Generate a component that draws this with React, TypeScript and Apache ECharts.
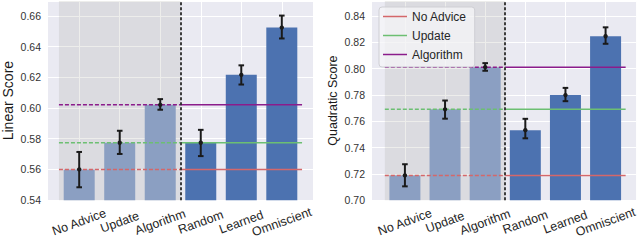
import React, { useEffect, useRef } from "react";
import * as echarts from "echarts";

const categories = ["No Advice", "Update", "Algorithm", "Random", "Learned", "Omniscient"];
const baselineCount = 3;
const lineNames = ["No Advice", "Update", "Algorithm"];

const linearMean = [0.5600, 0.5774, 0.6021, 0.5774, 0.6216, 0.6524];
const linearLow = [0.5484, 0.5701, 0.5989, 0.5687, 0.6153, 0.6453];
const linearHigh = [0.5714, 0.5852, 0.6058, 0.5858, 0.6278, 0.6602];

const quadMean = [0.7188, 0.7690, 0.8010, 0.7532, 0.7798, 0.8245];
const quadLow = [0.7105, 0.7619, 0.7983, 0.7470, 0.7752, 0.8188];
const quadHigh = [0.7273, 0.7757, 0.8041, 0.7618, 0.7853, 0.8313];

const linearTicks = { min: 0.54, max: 0.6697, interval: 0.02 };
const quadTicks = { min: 0.70, max: 0.8513, interval: 0.02 };

const FONT = "Liberation Sans, Arial, sans-serif";
const LIGHT_BAR = "#8b9fc2";
const DARK_BAR = "#4c72b0";
const LINE_COLORS = ["#d4676a", "#6cbf72", "#8b1c8b"];

function buildChart(
  g: number,
  mean: number[],
  low: number[],
  high: number[],
  suffix: string
) {
  const split = baselineCount - 0.5;
  const start = -0.5;
  const end = categories.length - 0.5;
  const series: any[] = [];
  series.push({
    type: "line",
    name: "shade" + suffix,
    xAxisIndex: g,
    yAxisIndex: g,
    data: [],
    z: 1,
    silent: true,
    markArea: {
      silent: true,
      itemStyle: { color: "rgba(140,140,132,0.16)" },
      data: [[{ xAxis: start }, { xAxis: split }]],
    },
    markLine: {
      silent: true,
      symbol: "none",
      label: { show: false },
      lineStyle: { color: "#2a2a2a", type: [3, 2], width: 1.8 },
      data: [{ xAxis: split }],
    },
  });
  series.push({
    type: "bar",
    name: "bars" + suffix,
    xAxisIndex: g,
    yAxisIndex: g,
    barWidth: 31,
    z: 2,
    data: mean.map((v, i) => ({
      value: [i, v],
      itemStyle: { color: i < baselineCount ? LIGHT_BAR : DARK_BAR },
    })),
  });
  for (let k = 0; k < baselineCount; k++) {
    const v = mean[k];
    series.push({
      type: "line",
      name: suffix === "" ? lineNames[k] : lineNames[k] + suffix,
      xAxisIndex: g,
      yAxisIndex: g,
      symbol: "none",
      z: 3,
      lineStyle: { color: LINE_COLORS[k], width: 1.5 },
      itemStyle: { color: LINE_COLORS[k] },
      data: [
        [split, v],
        [end, v],
      ],
    });
    series.push({
      type: "line",
      name: "dash" + k + suffix,
      xAxisIndex: g,
      yAxisIndex: g,
      symbol: "none",
      z: 3,
      lineStyle: { color: LINE_COLORS[k], width: 1.5, type: [4, 2] },
      data: [
        [start, v],
        [split, v],
      ],
    });
  }
  series.push({
    type: "custom",
    name: "err" + suffix,
    xAxisIndex: g,
    yAxisIndex: g,
    z: 5,
    data: mean.map((v, i) => [i, low[i], high[i], v]),
    renderItem: (params: any, api: any) => {
      const x = api.value(0);
      const lo = api.coord([x, api.value(1)]);
      const hi = api.coord([x, api.value(2)]);
      const m = api.coord([x, api.value(3)]);
      const st = { stroke: "#1a1a1a", lineWidth: 2 };
      const cw = 2.8;
      return {
        type: "group",
        children: [
          { type: "line", shape: { x1: lo[0], y1: lo[1], x2: hi[0], y2: hi[1] }, style: st },
          { type: "line", shape: { x1: lo[0] - cw, y1: lo[1], x2: lo[0] + cw, y2: lo[1] }, style: st },
          { type: "line", shape: { x1: hi[0] - cw, y1: hi[1], x2: hi[0] + cw, y2: hi[1] }, style: st },
          { type: "circle", shape: { cx: m[0], cy: m[1], r: 2.2 }, style: { fill: "#1a1a1a" } },
        ],
      };
    },
  });
  return series;
}

function xAxisFor(g: number, min: number, max: number) {
  const idx = categories.map((_, i) => i);
  return {
    type: "value",
    gridIndex: g,
    min,
    max,
    axisLine: { show: false },
    axisTick: { show: false, customValues: idx },
    splitLine: { show: true, lineStyle: { color: "#ffffff", width: 1 } },
    axisLabel: {
      customValues: idx,
      formatter: (v: number) => categories[Math.round(v)] ?? "",
      rotate: 20,
      align: "center",
      verticalAlign: "middle",
      margin: 22,
      fontSize: 12.5,
      color: "#262626",
      fontFamily: FONT,
    },
  };
}

function yAxisFor(g: number, t: any, name: string, nameSize: number) {
  return {
    type: "value",
    gridIndex: g,
    min: t.min,
    max: t.max,
    interval: t.interval,
    name,
    nameLocation: "middle",
    nameGap: 33,
    nameTextStyle: { fontSize: nameSize, color: "#1a1a1a", fontFamily: FONT },
    axisLine: { show: false },
    axisTick: { show: false },
    splitLine: { show: true, lineStyle: { color: "#ffffff", width: 1 } },
    axisLabel: {
      formatter: (v: number) => v.toFixed(2),
      showMaxLabel: false,
      fontSize: 10.5,
      margin: 7,
      color: "#333333",
      fontFamily: FONT,
    },
  };
}

export default function App() {
  const ref = useRef<HTMLDivElement>(null);
  useEffect(() => {
    if (!ref.current) return;
    const chart = echarts.init(ref.current, null, { renderer: "svg" });
    chart.setOption({
      animation: false,
      textStyle: { fontFamily: FONT },
      grid: [
        { left: 47, right: 327, top: 1, bottom: 38, show: true, backgroundColor: "#eaeaf2", borderWidth: 0 },
        { left: 372, right: 1, top: 1, bottom: 38, show: true, backgroundColor: "#eaeaf2", borderWidth: 0 },
      ],
      xAxis: [xAxisFor(0, -0.77, 5.77), xAxisFor(1, -0.82, 5.76)],
      yAxis: [
        yAxisFor(0, linearTicks, "Linear Score", 14),
        yAxisFor(1, quadTicks, "Quadratic Score", 12.5),
      ],
      legend: {
        data: lineNames,
        orient: "vertical",
        left: 379,
        top: 7,
        icon: "rect",
        itemWidth: 24,
        itemHeight: 1.5,
        itemGap: 6,
        padding: [3, 8, 6, 4],
        backgroundColor: "rgba(245,245,248,0.75)",
        borderColor: "#cfcfd4",
        borderWidth: 1,
        borderRadius: 3,
        textStyle: { fontSize: 12, lineHeight: 13, color: "#262626", fontFamily: FONT },
        selectedMode: false,
      },
      series: [
        ...buildChart(0, linearMean, linearLow, linearHigh, " (linear)"),
        ...buildChart(1, quadMean, quadLow, quadHigh, ""),
      ],
    });
    return () => chart.dispose();
  }, []);
  return <div ref={ref} style={{ width: 640, height: 240, position: "absolute", left: 0, top: 0 }} />;
}
